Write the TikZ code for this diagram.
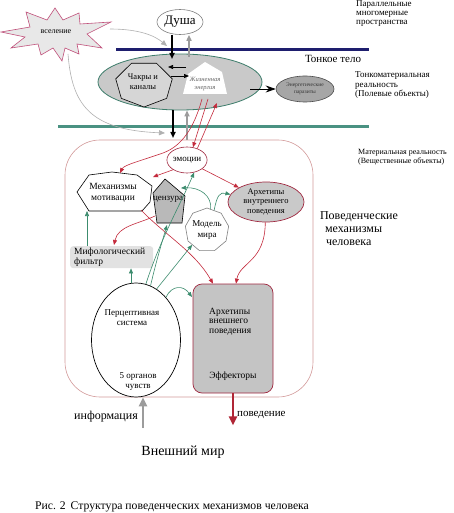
\documentclass[tikz,border=0pt]{standalone}
\usepackage{fontspec}
\setmainfont{Liberation Serif}
\usetikzlibrary{arrows.meta,shapes.geometric,calc}
\definecolor{navyl}{HTML}{1E1E6E}
\definecolor{teall}{HTML}{4A9282}
\definecolor{geline}{HTML}{3D7D6B}
\definecolor{garrow}{HTML}{3C8C6E}
\definecolor{ared}{HTML}{C42A3C}
\definecolor{darkpink}{HTML}{A02840}
\definecolor{pinkline}{HTML}{D39A9A}
\definecolor{starline}{HTML}{C0507A}
\definecolor{starfill}{HTML}{E8E8E8}
\definecolor{fillg}{HTML}{C9C9C9}
\definecolor{czfill}{HTML}{B9B9B9}
\definecolor{aofill}{HTML}{C4C4C4}
\definecolor{miffill}{HTML}{E2E2E2}
\definecolor{epfill}{HTML}{A6A6A6}
\definecolor{chfill}{HTML}{D6D6D6}
\definecolor{lgray}{HTML}{B0B0B0}
\definecolor{mgray}{HTML}{9C9C9C}
\newcommand\fsz[2]{\fontsize{#1}{#2}\selectfont}
\begin{document}
\begin{tikzpicture}[x=1pt,y=-1pt,
  lab/.style={inner sep=0pt, align=center},
  gar/.style={draw=garrow, line width=0.6pt, -{Triangle[length=5pt,width=4pt]}},
  rar/.style={draw=ared, line width=0.6pt, -{Triangle[length=5pt,width=4pt]}},
  bar/.style={draw=black, line width=1.6pt, -{Triangle[length=6pt,width=5pt]}},
  gyar/.style={draw=mgray, line width=1.6pt, -{Triangle[length=6pt,width=5pt]}},
  lgar/.style={draw=lgray, line width=0.6pt, -{Triangle[length=6pt,width=5pt]}},
  tbar/.style={draw=black, line width=0.7pt, -{Triangle[length=5pt,width=4pt]}},
  bigin/.style={line width=2.5pt, -{Triangle[length=9pt,width=8pt]}}
]
\useasboundingbox (0,0) rectangle (454,513);
\fill[white] (0,0) rectangle (454,513);

% horizontal lines
\draw[navyl, line width=3pt] (116,50) -- (369,50);
\draw[teall, line width=3pt] (58,127) -- (369,127);

% star
\draw[starline, fill=starfill, line width=0.6pt]
  (1,32) -- (30,27) -- (26,12) -- (47,20) -- (55,8) -- (63,20) -- (79,13) -- (80,24)
  -- (111,22) -- (87,34) -- (102,48) -- (77,44) -- (79,54) -- (65,48) -- (62,61)
  -- (53,48) -- (41,55) -- (38,44) -- (11,48) -- (25,37) -- cycle;
\node[lab, font=\fsz{8}{9}] (vs) at (56,32) {вселение};

% soul
\node[ellipse, draw=gray, fill=white, line width=0.6pt, minimum width=46pt, minimum height=25pt, inner sep=0pt, font=\fsz{13}{14}] (du) at (180,22) {Душа};

% green ellipse
\node[ellipse, draw=geline, fill=fillg, line width=0.8pt, minimum width=164pt, minimum height=56pt, inner sep=0pt] (ge) at (180,82) {};
\draw[black, fill=chfill, line width=0.6pt] plot[samples at={0,1,2,3,4,5,6}, variable=\k] ({144+29*cos(90+\k*360/7)},{84+23*sin(90+\k*360/7)}) -- cycle;
\node[lab, font=\fsz{8.5}{10}] (ch) at (143,82) {Чакры и\\каналы};
\fill[white] (205,62) -- (222,72) -- (227,94) -- (183,94) -- (188,74) -- cycle;
\node[lab, font=\fsz{6.5}{8}\itshape, text=gray!80!black] (je) at (205,84) {Жизненная\\энергия};
\node[ellipse, draw=gray!60!black, fill=epfill, line width=0.6pt, minimum width=58pt, minimum height=26pt, inner sep=0pt, font=\fsz{5.5}{7}, text=black!80, align=center] (ep) at (305,89) {Энергетические\\паразиты};

% side texts
\node[lab, anchor=west, align=left, font=\fsz{9}{9}] (par) at (356,14) {Параллельные\\многомерные\\пространства};
\node[lab, font=\fsz{11}{12}] (tt) at (333,59) {Тонкое тело};
\node[lab, anchor=west, align=left, font=\fsz{9}{9.5}] (tmr) at (355,85.5) {Тонкоматериальная\\реальность\\(Полевые объекты)};
\node[lab, anchor=west, align=left, font=\fsz{8}{9}] (mr) at (358,157.5) {Материальная реальность\\(Вещественные объекты)};
\node[lab, align=left, font=\fsz{12}{13}] (pmc) at (359,229) {Поведенческие\\\hspace*{5pt}механизмы\\\hspace*{6pt}человека};

% big box
\draw[pinkline, line width=0.6pt, rounded corners=35pt] (65,140) rectangle (313,397);

% emotions
\node[ellipse, draw=darkpink, fill=white, line width=0.6pt, minimum width=38pt, minimum height=26pt, inner sep=0pt, font=\fsz{9}{10}] (emo) at (187,160) {эмоции};

% motivation octagon
\draw[black, fill=white, line width=0.6pt] (77,192) -- (89,175) -- (112,172) -- (137,175) -- (152,186) -- (150,202) -- (142,211) -- (89,211) -- cycle;
\node[lab, font=\fsz{9.5}{11}] (mm) at (113,193) {Механизмы\\мотивации};

% censorship pentagon
\draw[black, fill=czfill, line width=0.6pt] (165,179) -- (185,196) -- (182,223) -- (157,223) -- (153,193) -- cycle;
\node[lab, font=\fsz{9}{10}] (cz) at (168,199) {цензура};

% inner archetypes
\node[ellipse, draw=darkpink, fill=fillg, line width=0.7pt, minimum width=76pt, minimum height=40pt, inner sep=0pt, align=center, font=\fsz{8.5}{9.5}] (ai) at (266,202) {Архетипы\\внутреннего\\поведения};

% world model
\node[regular polygon, regular polygon sides=9, draw=gray, fill=white, line width=0.6pt, minimum size=42pt, inner sep=0pt, align=center, font=\fsz{9}{11}] (mw) at (207,230) {Модель\\мира};

% mythological filter
\node[fill=miffill, rounded corners=3pt, minimum width=83pt, minimum height=22pt, text width=75pt, inner xsep=4pt, inner ysep=0pt, align=left, anchor=north west, font=\fsz{9.5}{10}] (miff) at (70,246) {Мифологический\\фильтр};

% perceptive system
\node[ellipse, draw=black, fill=white, line width=0.7pt, minimum width=89pt, minimum height=114pt, inner sep=0pt] (perc) at (136,340) {};
\node[lab, font=\fsz{9}{9.5}] (p1) at (132,317.5) {Перцептивная\\система};
\node[lab, font=\fsz{9}{9.5}] (p2) at (138,381.5) {5 органов\\чувств};

% outer archetypes
\node[rectangle, rounded corners=9pt, draw=darkpink, fill=aofill, line width=0.7pt, minimum width=80pt, minimum height=109pt, inner sep=0pt] (ao) at (233,338.5) {};
\node[lab, anchor=west, align=left, font=\fsz{9.5}{9.5}] (ao1) at (209,321.5) {Архетипы\\внешнего\\поведения};
\node[lab, font=\fsz{9.5}{10}] (ao2) at (233,376) {Эффекторы};

% coordinates
\coordinate (b1e) at (172,59);
\coordinate (g1s) at (189,57);
\coordinate (b2e) at (173,138);
\coordinate (g2s) at (187,140);
\coordinate (s1s) at (110,29);
\coordinate (s1e) at (167,46);
\coordinate (s2s) at (68,54);
\coordinate (s2e) at (165,133);
\coordinate (ca1s) at (186,67);
\coordinate (ca1e) at (168,67);
\coordinate (ca2s) at (171,76);
\coordinate (ca2e) at (189,76);
\coordinate (epsrc) at (250,89);
\coordinate (je1) at (208,99);
\coordinate (je2) at (217,103);
\coordinate (je3) at (202,99);
\coordinate (mmn) at (120,173);
\coordinate (mmne) at (153,177);
\coordinate (mmse) at (141,210);
\coordinate (mms) at (87,211);
\coordinate (czw) at (155,216);
\coordinate (czs) at (167,225);
\coordinate (cze) at (181,188);
\coordinate (mfn) at (114,245);
\coordinate (aow) at (192,297);
\coordinate (infs) at (143,428);

% top arrows
\draw[bar] (du.south -| b1e) -- (b1e);
\draw[gyar] (g1s) -- (g1s |- du.south);
\draw[bar] (ge.south -| b2e) -- (b2e);
\draw[gyar] (g2s) -- (g2s |- ge.south);
\draw[lgar] (s1s) .. controls (140,29) and (155,36) .. (s1e);
\draw[lgar] (s2s) .. controls (72,105) and (90,130) .. (s2e);
\draw[tbar] (ca1s) -- (ca1e);
\draw[tbar] (ca2s) -- (ca2e);
\draw[black, line width=0.8pt, -{Stealth[length=10pt,width=7pt]}] (epsrc) -- (ep.west);

% red from vital energy
\draw[rar] (je1) -- (emo.65);
\draw[rar] (emo.48) -- (je2);
\draw[rar] (je3) .. controls (194,128) and (182,146) .. (163,153) .. controls (140,161) and (124,165) .. (mmn);

% red in box
\draw[rar] (emo.215) -- (mmne);
\draw[rar] (emo.330) -- (ai.152);
\draw[rar] (mmse) .. controls (165,235) and (195,252) .. ([xshift=-20pt]ao.north);
\draw[rar] (ai.268) .. controls (265,262) and (240,262) .. ([xshift=3pt]ao.north);
\draw[rar] (czw) .. controls (138,224) and (118,226) .. (mfn);

% green in box
\draw[gar] (mms |- miff.north) -- (mms);
\draw[gar] (perc.95) -- (perc.95 |- miff.south);
\draw[gar] (perc.80) .. controls (160,240) and (180,205) .. (emo.300);
\draw[gar] (perc.75) .. controls (156,262) and (162,242) .. (czs);
\draw[gar] (perc.68) -- (mw.225);
\draw[gar] (perc.55) .. controls (172,285) and (183,285) .. (aow);
\draw[gar] (mw.80) .. controls (212,196) and (200,187) .. (cze);
\draw[gar] (mw.70) .. controls (217,195) and (220,192) .. (ai.168);

% in/out arrows
\draw[bigin, draw=mgray, fill=mgray] (infs) -- (infs |- perc.south);
\draw[bigin, draw=ared!90!black, fill=ared!90!black] (ao.south) -- ++(0,32);
\node[lab, anchor=east, font=\fsz{12}{13}] (inf) at (138,417) {информация};
\node[lab, anchor=west, font=\fsz{11}{12}] (beh) at (237,415) {поведение};
\node[lab, font=\fsz{14}{15}] (vm) at (183,452) {Внешний мир};
\node[lab, anchor=west, font=\fsz{11.7}{13}] (cap) at (35,507) {Рис. 2\, Структура поведенческих механизмов человека};
\end{tikzpicture}
\end{document}
